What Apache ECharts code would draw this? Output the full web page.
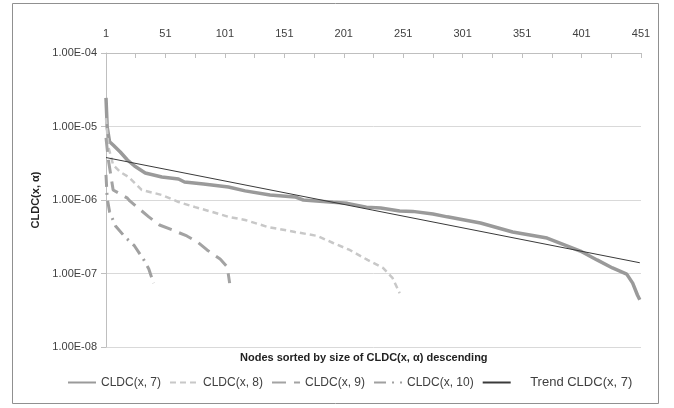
<!DOCTYPE html>
<html>
<head>
<meta charset="utf-8">
<script src="https://cdn.jsdelivr.net/npm/echarts@6/dist/echarts.min.js"></script>
<style>
html,body{margin:0;padding:0;background:#fff;}
#c{width:674px;height:408px;}
</style>
</head>
<body>
<div id="c"></div>
<script>
// x tick labels (node rank)
const xTicks = [1, 51, 101, 151, 201, 251, 301, 351, 401, 451];
// y tick labels (decades)
const yTicks = ['1.00E-08', '1.00E-07', '1.00E-06', '1.00E-05', '1.00E-04'];
const seriesNames = ['CLDC(x, 7)', 'CLDC(x, 8)', 'CLDC(x, 9)', 'CLDC(x, 10)', 'Trend CLDC(x, 7)'];

// [node rank, value]
const cldc7 = [[1,2.45e-5],[2,9.8e-6],[4,6.2e-6],[7,5.6e-6],[13,4.5e-6],[19,3.5e-6],[25,2.9e-6],[34,2.33e-6],[48,2.06e-6],[62,1.93e-6],[67,1.76e-6],[83,1.65e-6],[90,1.6e-6],[104,1.5e-6],[118,1.33e-6],[139,1.17e-6],[160,1.1e-6],[167,1.0e-6],[192,9.3e-7],[204,9.0e-7],[220,8.0e-7],[232,7.8e-7],[248,7.1e-7],[259,7.0e-7],[276,6.45e-7],[288,5.9e-7],[316,4.87e-7],[343,3.67e-7],[372,3.04e-7],[400,2.02e-7],[414,1.53e-7],[427,1.19e-7],[439,9.8e-8],[444,7.4e-8],[448,5.1e-8],[450,4.4e-8]];
const cldc8 = [[1,1.3e-5],[3,5.3e-6],[7,3.0e-6],[13,2.4e-6],[20,2.06e-6],[31,1.37e-6],[48,1.17e-6],[62,9.4e-7],[76,8.0e-7],[90,6.9e-7],[104,5.9e-7],[118,5.35e-7],[137,4.3e-7],[160,3.67e-7],[179,3.24e-7],[192,2.6e-7],[206,2.09e-7],[221,1.53e-7],[234,1.19e-7],[242,8.7e-8],[248,5.4e-8]];
const cldc9 = [[1,7.0e-6],[3,3.5e-6],[5,2.19e-6],[7,1.37e-6],[19,1.06e-6],[21,9.7e-7],[28,7.8e-7],[37,5.9e-7],[46,4.57e-7],[57,3.9e-7],[69,3.24e-7],[78,2.68e-7],[86,2.09e-7],[97,1.57e-7],[103,1.23e-7],[104,9.5e-8],[105,7.4e-8]];
const cldc10 = [[1,2.2e-6],[2,1.06e-6],[4,6.9e-7],[9,4.43e-7],[17,3.14e-7],[25,2.37e-7],[30,1.79e-7],[32,1.62e-7],[37,1.15e-7],[41,7.4e-8]];
const trend7 = [[1,3.78e-6],[450,1.40e-7]];

const chart = echarts.init(document.getElementById('c'), null, {renderer:'canvas'});
const FONT = 'Liberation Sans';
function mk(name, data, color, width, dash) {
  return {
    name: name, type: 'line', data: data, showSymbol: false, symbol: 'none',
    smooth: false, animation: false,
    lineStyle: {color: color, width: width, type: dash},
    itemStyle: {color: color}
  };
}
chart.setOption({
  animation: false,
  backgroundColor: '#fff',
  textStyle: {fontFamily: FONT},
  grid: {left: 106, right: 33, top: 53, bottom: 61, containLabel: false},
  xAxis: {
    type: 'value', position: 'top', min: xTicks[0], max: xTicks[xTicks.length-1], interval: 50,
    axisLine: {show: true, lineStyle: {color: '#bfbfbf', width: 1}},
    axisTick: {show: true, inside: true, length: 5, lineStyle: {color: '#bfbfbf'}},
    minorTick: {show: true, splitNumber: 2, length: 5, lineStyle: {color: '#bfbfbf'}},
    axisLabel: {color: '#404040', fontSize: 11, margin: 14, fontFamily: FONT},
    splitLine: {show: false}
  },
  yAxis: {
    type: 'log', logBase: 10, min: 1e-8, max: 1e-4,
    name: 'CLDC(x, α)', nameLocation: 'middle', nameGap: 64, nameRotate: 90,
    nameTextStyle: {fontWeight: 'bold', fontSize: 11, color: '#222', fontFamily: FONT},
    axisLine: {show: true, lineStyle: {color: '#bfbfbf'}},
    axisTick: {show: true, length: 5, lineStyle: {color: '#bfbfbf'}},
    axisLabel: {color: '#404040', fontSize: 11, margin: 9, fontFamily: FONT,
      formatter: function (v) { const e = Math.round(Math.log10(v)); const idx = e + 8; return yTicks[idx] || ''; }},
    splitLine: {show: true, lineStyle: {color: '#d9d9d9', width: 1}}
  },
  legend: {
    bottom: 14, left: 62, itemWidth: 28, itemHeight: 10, itemGap: 8,
    itemStyle: {opacity: 0, borderWidth: 0},
    textStyle: {color: '#404040', fontSize: 12, fontFamily: FONT,
      rich: {t: {fontSize: 13, color: '#404040', fontFamily: FONT}}},
    formatter: function (name) { return name.indexOf('Trend') === 0 ? '{t|    ' + name + '}' : name; },
    data: seriesNames
  },
  graphic: [
    {type: 'rect', shape: {x: 12.5, y: 3.5, width: 646, height: 400}, style: {fill: 'none', stroke: '#909090', lineWidth: 1}, silent: true, z: -1},
    {type: 'text', left: 240, top: 352, style: {text: 'Nodes sorted by size of CLDC(x, α) descending', font: 'bold 11px "Liberation Sans"', fill: '#222'}}
  ],
  series: [
    mk(seriesNames[0], cldc7, '#9a9a9a', 3.5, 'solid'),
    mk(seriesNames[1], cldc8, '#c8c8c8', 2.5, [6, 4]),
    mk(seriesNames[2], cldc9, '#a3a3a3', 3, [14, 8]),
    mk(seriesNames[3], cldc10, '#a0a0a0', 3, [12, 6, 2, 6]),
    mk(seriesNames[4], trend7, '#3a3a3a', 1, 'solid')
  ]
});
</script>
</body>
</html>
